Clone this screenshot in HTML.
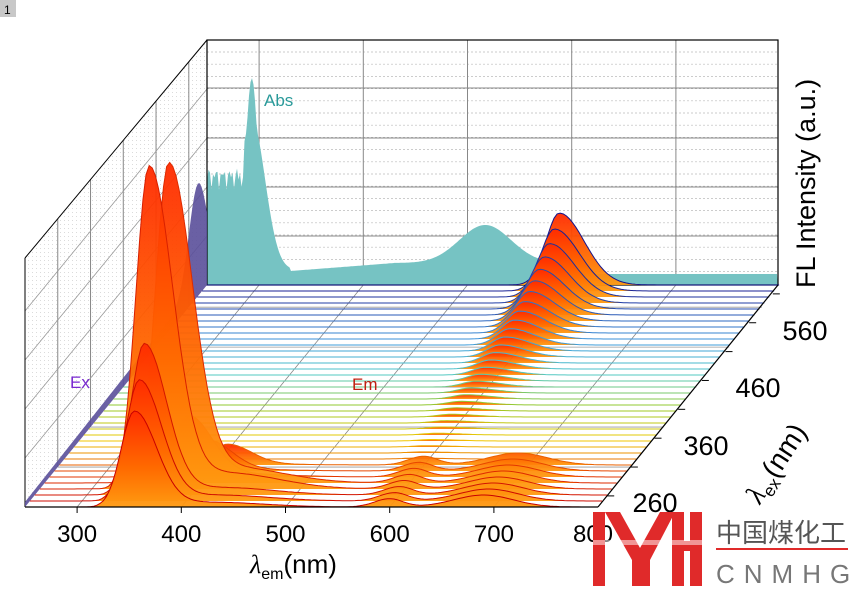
<!DOCTYPE html>
<html><head><meta charset="utf-8"><style>
body{margin:0;background:#fff;width:854px;height:591px;overflow:hidden}
svg{display:block}
text{font-family:"Liberation Sans",sans-serif}
</style></head><body>
<svg id="s" width="854" height="591" viewBox="0 0 854 591" xmlns="http://www.w3.org/2000/svg">
<defs>
<linearGradient id="og" x1="0" y1="0" x2="0" y2="1">
<stop offset="0" stop-color="#ff2a00"/><stop offset="0.6" stop-color="#ff6a00"/><stop offset="1" stop-color="#ff9a10"/>
</linearGradient>
<pattern id="dots" width="4" height="4" patternUnits="userSpaceOnUse"><rect width="1" height="1" fill="#ccc"/></pattern>
</defs>
<rect x="0" y="0" width="16" height="17" fill="#c8c8c8"/>
<text x="4" y="14" font-size="12" fill="#000">1</text>
<g id="g"></g>
</svg>
<script>
const g=document.getElementById('g');const NS='http://www.w3.org/2000/svg';
function el(t,a,txt){const e=document.createElementNS(NS,t);for(const k in a)e.setAttribute(k,a[k]);if(txt)e.textContent=txt;g.appendChild(e);return e;}
const K=1.042;
function P(l,t,h){return [25+(l-250)*K+182*t,507-222*t-h];}
el('polygon',{points:'25,258 207,40 207,285 25,507',fill:'url(#dots)',opacity:0.7});
[0.18,0.36,0.54,0.72,0.9].forEach(t=>{const x=25+182*t;el('line',{x1:x,y1:507-222*t,x2:x,y2:258-218*t,stroke:'#888','stroke-width':1});});
[49,98,147,196].forEach(d=>{el('line',{x1:25,y1:507-d,x2:207,y2:285-d,stroke:'#999','stroke-width':0.8});});
for(let y=52;y<285;y+=12.2)el('line',{x1:207,y1:y,x2:778,y2:y,stroke:'#bbb','stroke-width':0.7,'stroke-dasharray':'2,2'});
[88,138,187,236].forEach(y=>el('line',{x1:207,y1:y,x2:778,y2:y,stroke:'#888','stroke-width':1}));
[300,400,500,600,700].forEach(l=>{const x=207+(l-250)*K;el('line',{x1:x,y1:40,x2:x,y2:285,stroke:'#888','stroke-width':1});});
let ap='M207,285 ';
for(let x=207;x<=778;x+=1.5){const l=(x-207)/K+250;let h;
 if(l<285)h=108+Math.sin(l*1.7)*7+Math.cos(l*0.9)*6;
 else h=0;
 const pk=207*Math.exp(-Math.pow((l-293)/9,2));
 h=Math.max(h,pk);
 if(l>=285&&l<330){h=Math.max(h,15+150*Math.exp(-Math.pow((l-293)/18,2)));}
 h=Math.max(h,14+8*(l>330?Math.min(1,(l-330)/100):0)+38*Math.exp(-Math.pow((l-517)/35,2)));
 if(l>575)h=Math.max(11,h*Math.exp(-(l-575)/15));
 ap+=`L${x.toFixed(1)},${(285-h).toFixed(1)} `;}
ap+='L778,285Z';
el('path',{d:ap,fill:'#76c3c3'});
el('rect',{x:207,y:40,width:571,height:245,fill:'none',stroke:'#000','stroke-width':1.2});
el('line',{x1:207,y1:40,x2:25,y2:258,stroke:'#000','stroke-width':1});
el('line',{x1:25,y1:258,x2:25,y2:507,stroke:'#000','stroke-width':1});
[300,400,500,600,700].forEach(l=>{const a=P(l,0,0),b=P(l,1,0);el('line',{x1:a[0],y1:a[1],x2:b[0],y2:b[1],stroke:'#888','stroke-width':0.8});});
[0.18,0.36,0.54,0.72,0.9].forEach(t=>{const a=P(250,t,0),b=P(800,t,0);el('line',{x1:a[0],y1:a[1],x2:b[0],y2:b[1],stroke:'#999','stroke-width':0.8});});
let ep='M25,507 ';
for(let t=0;t<=1.0001;t+=0.01){let h=5+t*8+100*Math.exp(-Math.pow((t-0.95)/0.07,2));const x=25+182*t,y=507-222*t-h;ep+=`L${x.toFixed(1)},${y.toFixed(1)} `;}
ep+='L207,285 Z';
el('path',{d:ep,fill:'#5a4f9a',opacity:0.9});
function col(t){const stops=[[0,[200,0,0]],[0.15,[230,60,0]],[0.3,[240,200,0]],[0.45,[150,200,40]],[0.6,[80,200,200]],[0.75,[60,150,220]],[1,[20,20,140]]];
 for(let i=0;i<stops.length-1;i++){const[a,ca]=stops[i],[b,cb]=stops[i+1];if(t<=b){const f=(t-a)/(b-a);return `rgb(${ca.map((c,j)=>Math.round(c+(cb[j]-c)*f)).join(',')})`;}}return 'rgb(20,20,140)';}
const N=38;const bigA=[95,120,150,320,315,60,30,20];
function asym(l,c,s1,s2){const s=l<c?s1:s2;return Math.exp(-Math.pow((l-c)/s,2));}
for(let i=N-1;i>=0;i--){const t=i/(N-1);
 let pts=[];
 for(let l=250;l<=800;l+=3){let h=0;
  if(i<bigA.length)h+=bigA[i]*asym(l,355+(i>=3?(i-3)*14:0),18,(i>=3?32:30))*(l>320?1:Math.max(0,(l-300)/20));
  if(i<bigA.length)h+=bigA[i]*0.05*asym(l,430,60,70);
  h+=72*Math.exp(5.5*(t-1))*asym(l,588,18,34);
  if(i<8){h+=8*asym(l,600,20,18)+12*asym(l,690,40,40);}
  const p=P(l,t,h);pts.push(p);}
 const d='M'+pts.map(p=>p[0].toFixed(1)+','+p[1].toFixed(1)).join(' L');
 const b0=P(250,t,0),b1=P(800,t,0);
 el('path',{d:d+` L${b1[0]},${b1[1]} L${b0[0]},${b0[1]} Z`,fill:'url(#og)',opacity:0.95});
 el('path',{d:d,fill:'none',stroke:col(t),'stroke-width':1});
}
el('line',{x1:25,y1:507,x2:598,y2:507,stroke:'#000','stroke-width':1.2});
el('line',{x1:598,y1:507,x2:778,y2:285,stroke:'#000','stroke-width':1.2});
[300,400,500,600,700].forEach(l=>{const x=25+(l-250)*K;el('line',{x1:x,y1:507,x2:x,y2:513,stroke:'#000'});el('text',{x:x,y:542,'font-size':24,'text-anchor':'middle'},String(l));});
el('text',{x:593,y:542,'font-size':24,'text-anchor':'middle'},'800');
[[260,655,512],[360,706,455],[460,758,397],[560,805,340]].forEach(a=>{el('text',{x:a[1],y:a[2],'font-size':27,'text-anchor':'middle'},String(a[0]));});
for(let t=0.05;t<1;t+=0.13){const p=P(800,t,0);el('line',{x1:p[0],y1:p[1],x2:p[0]+7,y2:p[1],stroke:'#000'});}
el('text',{x:264,y:106,'font-size':17,fill:'#2a9a9a'},'Abs');
el('text',{x:70,y:388,'font-size':17,fill:'#7a2ad0'},'Ex');
el('text',{x:352,y:390,'font-size':17,fill:'#c02010'},'Em');
el('text',{x:0,y:0,'font-size':27,transform:'translate(815,288) rotate(-90)'},'FL Intensity (a.u.)');
const t1=el('text',{x:250,y:573,'font-size':26});t1.innerHTML='<tspan font-style="italic" font-family="Liberation Serif">λ</tspan><tspan font-size="16" dy="6">em</tspan><tspan dy="-6">(nm)</tspan>';
const t2=el('text',{x:0,y:0,'font-size':28,transform:'translate(760,505) rotate(-57)'});t2.innerHTML='<tspan font-style="italic" font-family="Liberation Serif">λ</tspan><tspan font-size="17" dy="6">ex</tspan><tspan dy="-6">(nm)</tspan>';
el('rect',{x:593,y:512,width:12,height:74,fill:'#e02a2a'});
el('polygon',{points:'605,512 620,512 640,548 660,512 675,512 650,560 650,586 632,586 632,560',fill:'#e02a2a'});
el('rect',{x:672,y:512,width:12,height:74,fill:'#e02a2a'});
el('rect',{x:690,y:512,width:12,height:74,fill:'#e02a2a'});
el('rect',{x:672,y:541,width:30,height:10,fill:'#e02a2a'});
el('rect',{x:593,y:540,width:110,height:5,fill:'#fff',opacity:0.5});
const c=el('text',{x:716,y:542,'font-size':26,fill:'#555'},'中国煤化工');c.setAttribute('font-family','"Liberation Sans","Noto Sans CJK SC",sans-serif');
el('rect',{x:716,y:548,width:132,height:2,fill:'#e02a2a'});
el('text',{x:716,y:583,'font-size':26,fill:'#777','letter-spacing':'9'},'CNMHG');
</script>
</body></html>
